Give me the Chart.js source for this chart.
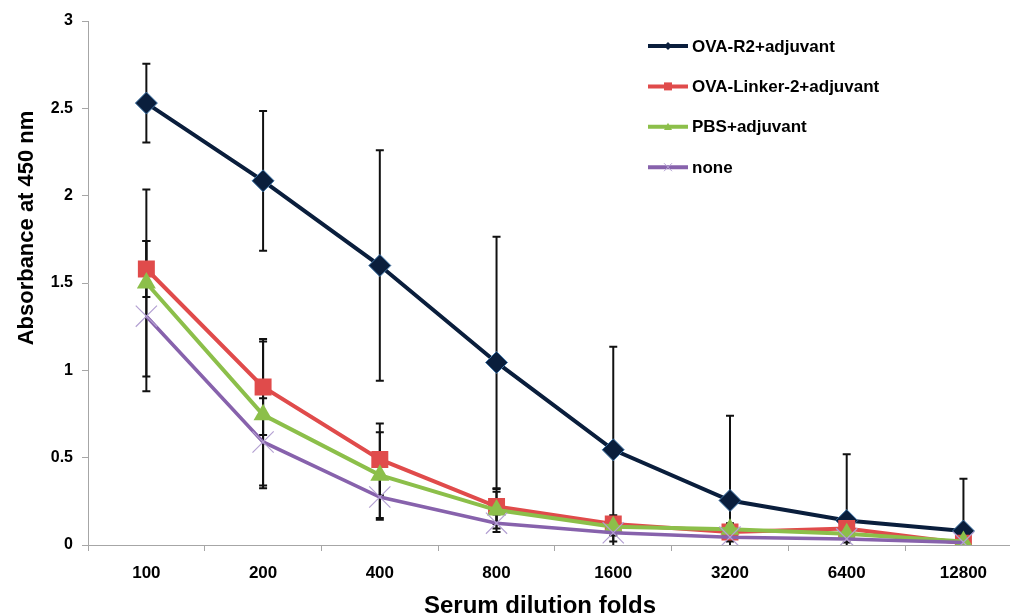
<!DOCTYPE html>
<html>
<head>
<meta charset="utf-8">
<title>Serum dilution</title>
<script src="https://cdn.jsdelivr.net/npm/chart.js@4.4.1/dist/chart.umd.min.js"></script>
<style>
  html, body { margin: 0; padding: 0; background: #fff; overflow: hidden; }
  #wrap { width: 1038px; height: 616px; }
</style>
</head>
<body>
<div id="wrap"><canvas id="myChart" width="1038" height="616"></canvas></div>
<script>
const dilutions = ['100', '200', '400', '800', '1600', '3200', '6400', '12800']
const seriesNames = ['OVA-R2+adjuvant', 'OVA-Linker-2+adjuvant', 'PBS+adjuvant', 'none']
const ovaR2 = [2.53, 2.085, 1.6, 1.045, 0.545, 0.255, 0.14, 0.08]
const ovaR2Err = [0.225, 0.4, 0.66, 0.72, 0.59, 0.485, 0.38, 0.3]
const ovaLinker = [1.58, 0.905, 0.49, 0.22, 0.12, 0.075, 0.095, 0.01]
const ovaLinkerErr = [0.16, 0.275, 0.205, 0.1, 0.05, 0.05, 0.03, 0.01]
const pbs = [1.5, 0.745, 0.4, 0.2, 0.105, 0.09, 0.065, 0.02]
const pbsErr = [0.535, 0.42, 0.245, 0.105, 0.05, 0.03, 0.03, 0.01]
const none = [1.31, 0.59, 0.275, 0.125, 0.07, 0.045, 0.035, 0.015]
const noneErr = [0.43, 0.25, 0.13, 0.05, 0.05, 0.025, 0.02, 0.01]
const yTicks = [0, 0.5, 1, 1.5, 2, 2.5, 3]

const FONT = "'Liberation Sans', Arial, sans-serif"

function marker(ctx, style, x, y, r) {
  ctx.beginPath()
  if (style === 'rectRot') {
    ctx.moveTo(x, y - r)
    ctx.lineTo(x + r, y)
    ctx.lineTo(x, y + r)
    ctx.lineTo(x - r, y)
    ctx.closePath()
  } else if (style === 'rect') {
    ctx.rect(x - r, y - r, 2 * r, 2 * r)
  } else if (style === 'triangle') {
    ctx.moveTo(x, y - r)
    ctx.lineTo(x + r, y + r * 0.8)
    ctx.lineTo(x - r, y + r * 0.8)
    ctx.closePath()
  } else {
    ctx.moveTo(x - r, y - r)
    ctx.lineTo(x + r, y + r)
    ctx.moveTo(x + r, y - r)
    ctx.lineTo(x - r, y + r)
  }
}

const errorBars = {
  id: 'errorBars',
  beforeDatasetsDraw(chart) {
    const { ctx, chartArea, scales } = chart
    ctx.save()
    ctx.beginPath()
    ctx.rect(chartArea.left, chartArea.top - 2, chartArea.right - chartArea.left, chartArea.bottom - chartArea.top + 2)
    ctx.clip()
    ctx.strokeStyle = '#111'
    ctx.lineWidth = 2
    chart.data.datasets.forEach((ds, i) => {
      const meta = chart.getDatasetMeta(i)
      meta.data.forEach((pt, j) => {
        const v = ds.data[j]
        const e = ds.errors[j]
        const top = scales.y.getPixelForValue(v + e)
        const bot = scales.y.getPixelForValue(v - e)
        ctx.beginPath()
        ctx.moveTo(pt.x, top)
        ctx.lineTo(pt.x, bot)
        ctx.moveTo(pt.x - 4, top)
        ctx.lineTo(pt.x + 4, top)
        ctx.moveTo(pt.x - 4, bot)
        ctx.lineTo(pt.x + 4, bot)
        ctx.stroke()
      })
    })
    ctx.restore()
  },
}

const sideLegend = {
  id: 'sideLegend',
  afterDraw(chart) {
    const { ctx } = chart
    ctx.save()
    chart.data.datasets.forEach((ds, i) => {
      const y = 46 + i * 40.4
      ctx.strokeStyle = ds.borderColor
      ctx.lineWidth = 4
      ctx.beginPath()
      ctx.moveTo(648, y)
      ctx.lineTo(688, y)
      ctx.stroke()
      marker(ctx, ds.pointStyle, 668, y, 4)
      if (ds.pointStyle === 'crossRot') {
        ctx.strokeStyle = ds.pointBorderColor
        ctx.lineWidth = 1
        ctx.stroke()
      } else {
        ctx.fillStyle = ds.pointBackgroundColor
        ctx.fill()
      }
      ctx.fillStyle = '#000'
      ctx.font = `bold 17px ${FONT}`
      ctx.textBaseline = 'middle'
      ctx.textAlign = 'left'
      ctx.fillText(ds.label, 692, y + 1)
    })
    ctx.restore()
  },
}

const axisTitles = {
  id: 'axisTitles',
  afterDraw(chart) {
    const { ctx } = chart
    ctx.save()
    ctx.fillStyle = '#000'
    ctx.font = `bold 24px ${FONT}`
    ctx.textAlign = 'center'
    ctx.textBaseline = 'alphabetic'
    ctx.fillText('Serum dilution folds', 540, 613)
    ctx.translate(33, 228)
    ctx.rotate(-Math.PI / 2)
    ctx.font = `bold 22px ${FONT}`
    ctx.fillText('Absorbance at 450 nm', 0, 0)
    ctx.restore()
  },
}

;(() => {
  const ctx = document.getElementById('myChart').getContext('2d')
  new Chart(ctx, {
    type: 'line',
    data: {
      labels: dilutions,
      datasets: [
        {
          label: seriesNames[0],
          data: ovaR2,
          errors: ovaR2Err,
          order: 3,
          borderColor: '#0A1E3C',
          borderWidth: 4,
          pointStyle: 'rectRot',
          pointRadius: 11,
          pointBackgroundColor: '#0A1E3C',
          pointBorderColor: '#3D72A4',
          pointBorderWidth: 1,
        },
        {
          label: seriesNames[1],
          data: ovaLinker,
          errors: ovaLinkerErr,
          order: 2,
          borderColor: '#E04B4B',
          borderWidth: 4,
          pointStyle: 'rect',
          pointRadius: 12,
          pointBackgroundColor: '#E04B4B',
          pointBorderColor: '#E04B4B',
          pointBorderWidth: 0,
        },
        {
          label: seriesNames[2],
          data: pbs,
          errors: pbsErr,
          order: 1,
          borderColor: '#8CBF4A',
          borderWidth: 4,
          pointStyle: 'triangle',
          pointRadius: 11,
          pointBackgroundColor: '#8CBF4A',
          pointBorderColor: '#8CBF4A',
          pointBorderWidth: 0,
        },
        {
          label: seriesNames[3],
          data: none,
          errors: noneErr,
          order: 0,
          borderColor: '#8762AC',
          borderWidth: 3.5,
          pointStyle: 'crossRot',
          pointRadius: 15,
          pointBackgroundColor: '#B3A0D2',
          pointBorderColor: '#B3A0D2',
          pointBorderWidth: 1.2,
        },
      ],
    },
    options: {
      responsive: false,
      animation: false,
      events: [],
      layout: { padding: { left: 48, right: 1, top: 21, bottom: 31 } },
      plugins: { legend: { display: false }, tooltip: { enabled: false } },
      elements: { line: { tension: 0 } },
      scales: {
        x: {
          offset: true,
          border: { color: '#A6A6A6', width: 1 },
          grid: { offset: true, drawOnChartArea: false, drawTicks: true, tickLength: 6, color: '#A6A6A6' },
          ticks: { color: '#000', padding: 12, font: { family: FONT, size: 17, weight: 'bold' } },
          afterFit: (s) => { s.height = 40 },
        },
        y: {
          min: yTicks[0],
          max: yTicks[yTicks.length - 1],
          border: { color: '#A6A6A6', width: 1 },
          grid: { drawOnChartArea: false, drawTicks: true, tickLength: 6, color: '#A6A6A6' },
          ticks: {
            stepSize: yTicks[1] - yTicks[0],
            color: '#000',
            padding: 9,
            font: { family: FONT, size: 16, weight: 'bold' },
            callback: (v) => `${v}`,
          },
          afterFit: (s) => { s.width = 40 },
        },
      },
    },
    plugins: [errorBars, sideLegend, axisTitles],
  })
})()
</script>
</body>
</html>
